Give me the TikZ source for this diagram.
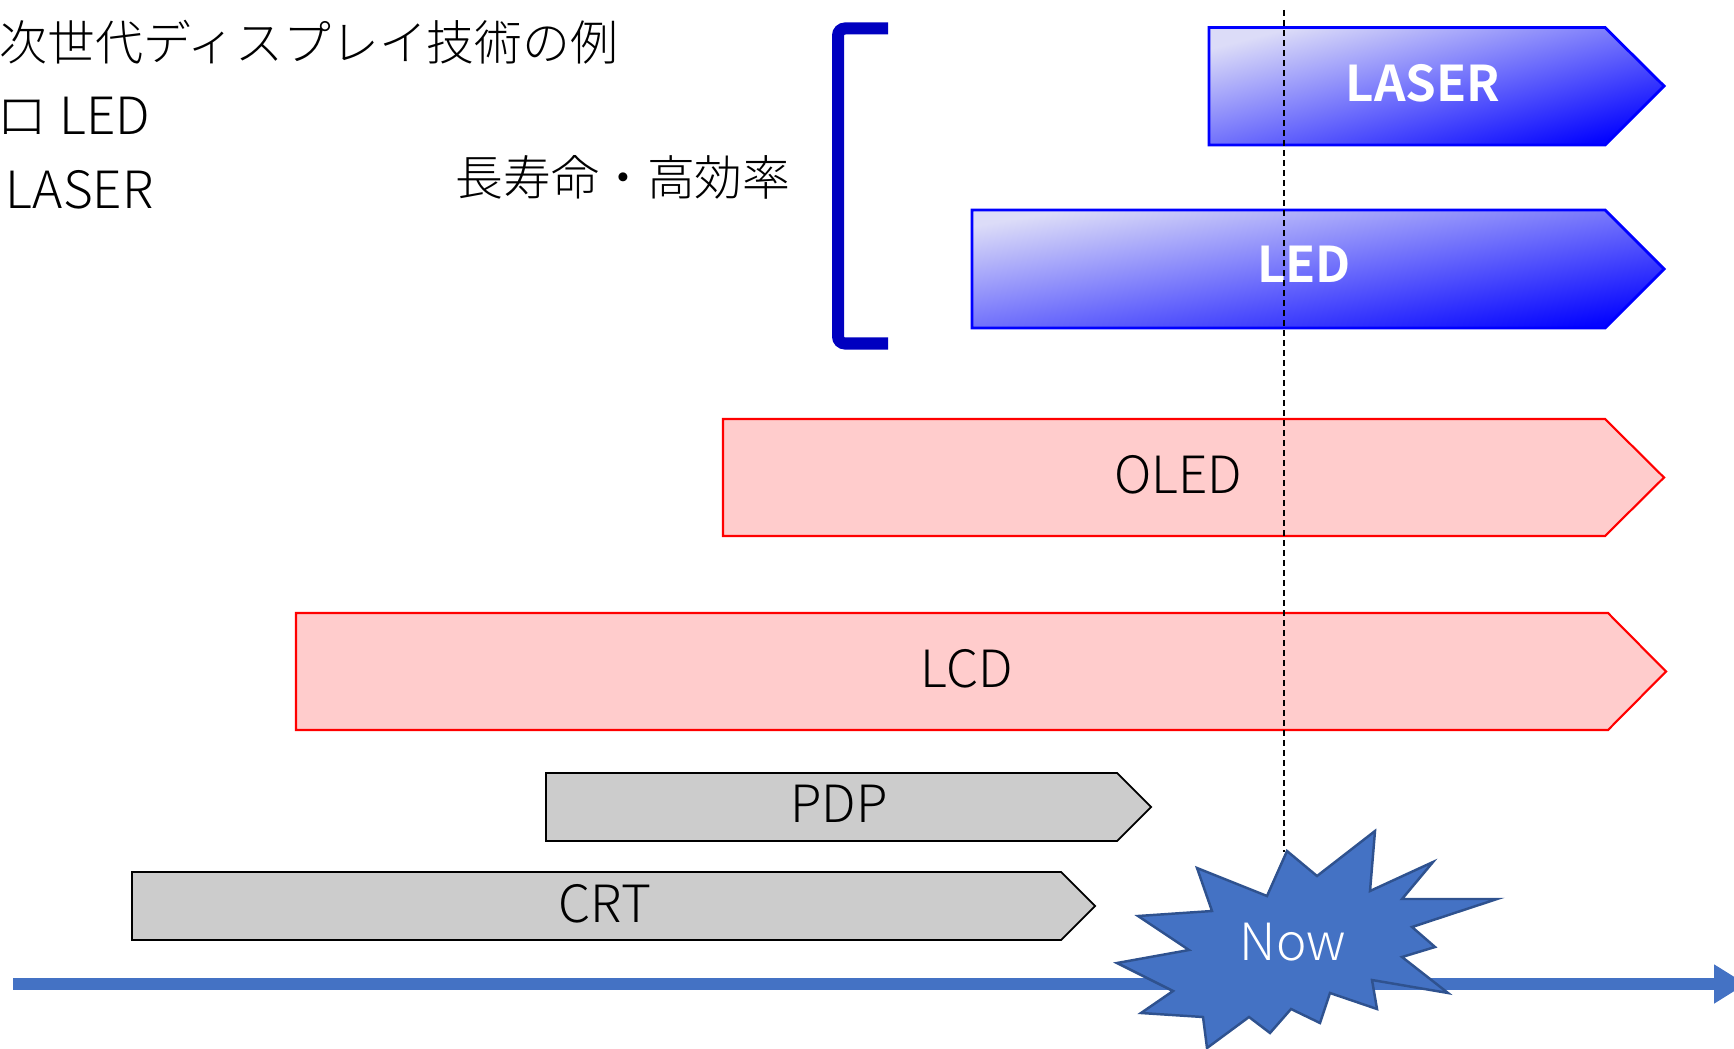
\documentclass[tikz,border=0pt]{standalone}
\usepackage{fontspec}
\IfFontExistsTF{Noto Sans CJK JP Light}
  {\setmainfont{Noto Sans CJK JP Light}[BoldFont={Noto Sans CJK JP Bold}]}
  {\setmainfont{Noto Sans CJK JP}}
\usetikzlibrary{arrows.meta}
\definecolor{axisblue}{HTML}{4472C4}
\definecolor{staredge}{HTML}{2F528F}
\definecolor{barpink}{HTML}{FFCCCC}
\definecolor{bargray}{HTML}{CCCCCC}
\definecolor{brackblue}{HTML}{0000C0}
\definecolor{lightlav}{HTML}{DCDCF8}
\definecolor{deepblue}{HTML}{0505FF}

\begin{document}
\begin{tikzpicture}[x=0.01cm, y=-0.01cm,
    txt/.style={inner sep=0pt, font=\fontsize{13.6}{16}\selectfont},
    latin/.style={inner sep=0pt, font=\fontsize{14.6}{17}\selectfont},
    barlabel/.style={latin, anchor=base},
    boldlabel/.style={barlabel, text=white, font=\fontsize{14}{16}\selectfont\bfseries},
    bluebar/.style={draw=blue, line width=0.8pt, top color=lightlav, bottom color=deepblue, shading angle=#1},
    pinkbar/.style={draw=red, line width=0.6pt, fill=barpink},
    graybar/.style={draw=black, line width=0.5pt, fill=bargray},
    bracket/.style={draw=brackblue, line width=0.12cm, rounded corners=2pt},
    guide/.style={draw=black, line width=0.4pt, dash pattern=on 0.06cm off 0.04cm},
    timeaxis/.style={draw=axisblue, line width=0.12cm, -{Triangle[length=0.32cm, width=0.37cm]}},
    burst/.style={fill=axisblue, draw=staredge, line width=0.7pt, line join=miter},
]
\useasboundingbox (0,0) rectangle (1734,1049);

% time bars
\path[bluebar=14.5] (1209,27.5) -- (1605,27.5) -- (1664,86) -- (1605,145) -- (1209,145) -- cycle;
\path[bluebar=9.7] (972,210) -- (1605,210) -- (1664,269) -- (1605,328) -- (972,328) -- cycle;
\path[pinkbar] (723,419) -- (1605,419) -- (1664,477.5) -- (1605,536) -- (723,536) -- cycle;
\path[pinkbar] (296,613) -- (1608,613) -- (1666,671.5) -- (1608,730) -- (296,730) -- cycle;
\path[graybar] (546,773) -- (1117,773) -- (1151,807) -- (1117,841) -- (546,841) -- cycle;
\path[graybar] (132,872) -- (1061,872) -- (1095,906) -- (1061,940) -- (132,940) -- cycle;

\node[boldlabel] (laser) at (1423,102) {LASER};
\node[boldlabel] (led) at (1304,283) {LED};
\node[barlabel] (oled) at (1178,493) {OLED};
\node[barlabel] (lcd) at (967,687) {LCD};
\node[barlabel] (pdp) at (839,822) {PDP};
\node[barlabel] (crt) at (605,922) {CRT};

% notes
\node[txt, anchor=base west] (title) at (-1,61) {次世代ディスプレイ技術の例};
\node[latin, anchor=base west] (microled) at (-4,135) {ロ LED};
\node[latin, anchor=base west] (microlaser) at (5,209) {LASER};
\node[txt, anchor=base west] (merit) at (455,196) {長寿命・高効率};
\draw[bracket] (888,28.5) -- (838,28.5) -- (838,343.5) -- (888,343.5);

% now
\coordinate (guidetop) at (1284,10);
\coordinate (startop) at (1284,852);
\draw[guide] (guidetop) -- (startop);
\coordinate (axisstart) at (13,984);
\coordinate (axisend) at (1746,984);
\draw[timeaxis] (axisstart) -- (axisend);
\path[burst] (1287,851) -- (1317,876) -- (1375,831) -- (1370,891) -- (1433,862) -- (1402,899)
  -- (1497,899) -- (1412,927) -- (1435,947) -- (1402,957) -- (1448,993) -- (1372,980)
  -- (1377,1009) -- (1330,993) -- (1320,1023) -- (1291,1009) -- (1270,1033) -- (1249,1017)
  -- (1207,1048) -- (1203,1017) -- (1141,1013) -- (1173,991) -- (1117,963) -- (1189,950)
  -- (1138,916) -- (1212,911) -- (1197,868) -- (1267,896) -- cycle;
\node[barlabel, text=white] (now) at (1293,960) {Now};
\end{tikzpicture}
\end{document}
